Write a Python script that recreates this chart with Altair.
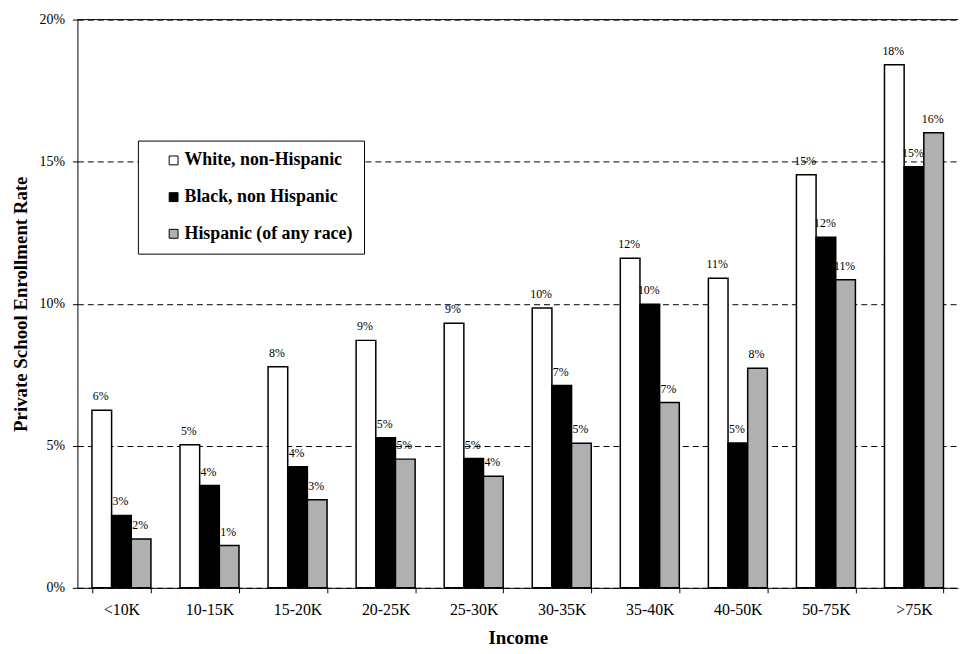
import altair as alt
import pandas as pd

categories = ["<10K", "10-15K", "15-20K", "20-25K", "25-30K",
              "30-35K", "35-40K", "40-50K", "50-75K", ">75K"]
series = ["White, non-Hispanic", "Black, non Hispanic", "Hispanic (of any race)"]
white = [6.25, 5.04, 7.78, 8.71, 9.31, 9.85, 11.60, 10.90, 14.54, 18.41]
black = [2.55, 3.60, 4.26, 5.28, 4.55, 7.12, 9.98, 5.10, 12.34, 14.82]
hispanic = [1.72, 1.49, 3.10, 4.53, 3.93, 5.09, 6.52, 7.73, 10.84, 16.02]
colors = ["#ffffff", "#000000", "#b0b0b0"]

rows = []
for s, vals in zip(series, [white, black, hispanic]):
    for c, v in zip(categories, vals):
        rows.append({"Income": c, "Group": s, "Rate": v / 100.0})
df = pd.DataFrame(rows)

FONT = "Liberation Serif"

x_enc = alt.X(
    "Income:N", sort=categories,
    scale=alt.Scale(paddingInner=0.33, paddingOuter=0.165),
    axis=alt.Axis(title="Income", labelAngle=0, tickBand="extent",
                  labelFont=FONT, labelFontSize=16, labelColor="black",
                  titleFont=FONT, titleFontSize=19, titleFontWeight="bold",
                  titleColor="black", titlePadding=11, labelPadding=9,
                  tickSize=5, tickColor="black", domainColor="black",
                  grid=False),
)
xo_enc = alt.XOffset("Group:N", sort=series, scale=alt.Scale(paddingInner=0))
y_enc = alt.Y(
    "Rate:Q",
    scale=alt.Scale(domain=[0, 0.2], nice=False),
    axis=alt.Axis(title="Private School Enrollment Rate", format=".0%",
                  values=[0, 0.05, 0.1, 0.15, 0.2],
                  labelFont=FONT, labelFontSize=14, labelColor="black",
                  titleFont=FONT, titleFontSize=19, titleFontWeight="bold",
                  titleColor="black", titlePadding=9, labelPadding=8,
                  tickSize=5, tickColor="black", domainColor="black",
                  grid=True, gridColor="black", gridDash=[6, 4],
                  gridWidth=1, gridOpacity=1),
)

bars = alt.Chart(df).mark_bar(stroke="black", strokeWidth=1.5).encode(
    x=x_enc,
    xOffset=xo_enc,
    y=y_enc,
    fill=alt.Fill(
        "Group:N", sort=series,
        scale=alt.Scale(domain=series, range=colors),
        legend=alt.Legend(
            title=None, orient="none", legendX=61, legendY=122,
            strokeColor="black", fillColor="white", padding=11,
            rowPadding=19, labelFont=FONT, labelFontSize=18,
            labelFontWeight="bold", labelColor="black", labelLimit=400,
            symbolType="square", symbolSize=80, symbolStrokeColor="black",
            symbolStrokeWidth=1, symbolOffset=16, labelOffset=2,
        ),
    ),
)

labels = alt.Chart(df).mark_text(
    font=FONT, fontSize=12, baseline="bottom", dy=-7, dx=-1, color="black"
).encode(
    x=alt.X("Income:N", sort=categories),
    xOffset=alt.XOffset("Group:N", sort=series),
    y="Rate:Q",
    text=alt.Text("Rate:Q", format=".0%"),
)

top_rule = alt.Chart(pd.DataFrame({"Rate": [0.2]})).mark_rule(
    color="black", strokeWidth=1
).encode(y="Rate:Q")

chart = alt.layer(bars, labels, top_rule).properties(
    width=888, height=573,
    autosize=alt.AutoSizeParams(type="none"),
    padding={"left": 70, "top": 9, "right": 1, "bottom": 62},
    background="white",
).configure_view(stroke=None)

chart.save("out.html", embed_options={"renderer": "svg", "actions": False})
